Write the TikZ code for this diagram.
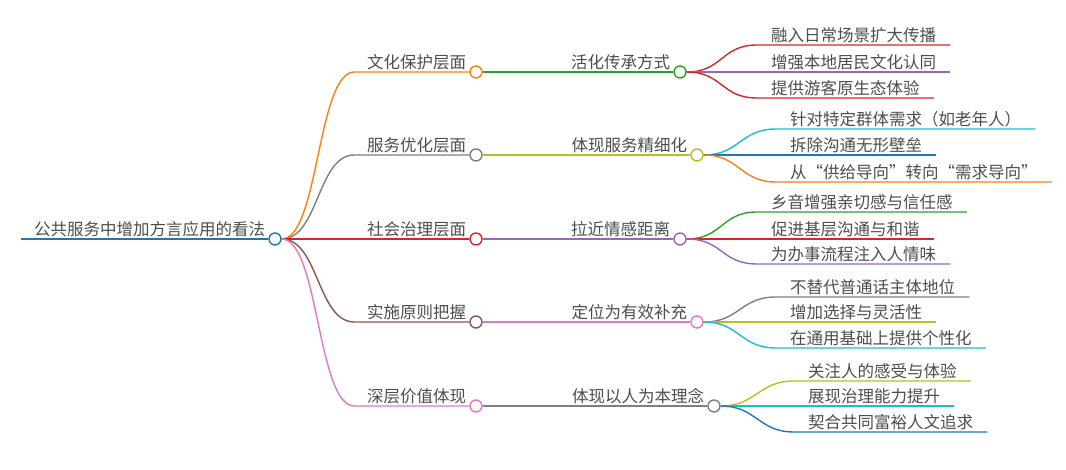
\documentclass[tikz,border=0pt]{standalone}
\usepackage{fontspec}
\newfontfamily\cjk{Noto Sans CJK SC}
\usepackage{xcolor}
\usepackage{tikz}
\usetikzlibrary{positioning}
\definecolor{cblue}{HTML}{1F77B4}
\definecolor{corange}{HTML}{FF7F0E}
\definecolor{cgreen}{HTML}{2CA02C}
\definecolor{cred}{HTML}{D62728}
\definecolor{cpurple}{HTML}{9467BD}
\definecolor{cbrown}{HTML}{8C564B}
\definecolor{cpink}{HTML}{E377C2}
\definecolor{cgray}{HTML}{7F7F7F}
\definecolor{colive}{HTML}{BCBD22}
\definecolor{ccyan}{HTML}{17BECF}
\definecolor{txtc}{HTML}{4D4D4D}
\tikzset{
  ln/.style={line width=1.4pt},
  dot/.style={circle,draw,line width=1.4pt,fill=white,minimum size=12pt,inner sep=0pt},
  lab/.style={font=\cjk\fontsize{16.5}{18}\selectfont,text=txtc,inner xsep=3pt,inner ysep=2pt},
  leaf/.style={lab,anchor=south west,inner xsep=14pt,inner ysep=1.5pt}
}

\begin{document}
\begin{tikzpicture}[x=1pt,y=1pt]
\useasboundingbox (0,0) rectangle (1066,470);
% root
\coordinate (rs) at (21,231);
\node[dot,draw=cblue] (root) at (275,231) {};
\node[lab,above left=0pt and 0pt of root.west] (roott) {公共服务中增加方言应用的看法};
\draw[ln,cblue] (rs) -- (root.west);
% first level
\node[dot,draw=corange] (a) at (476,398) {};
\node[dot,draw=cgray] (b) at (476,315) {};
\node[dot,draw=cred] (c) at (476,231) {};
\node[dot,draw=cbrown] (d) at (476,148) {};
\node[dot,draw=cpink] (e) at (476,64) {};
\node[lab,above left=0pt and 0pt of a.west] {文化保护层面};
\node[lab,above left=0pt and 0pt of b.west] {服务优化层面};
\node[lab,above left=0pt and 0pt of c.west] {社会治理层面};
\node[lab,above left=0pt and 0pt of d.west] {实施原则把握};
\node[lab,above left=0pt and 0pt of e.west] {深层价值体现};
\draw[ln,corange] (root.east) .. controls +(37,0) and +(-37,0) .. ([xshift=-115pt]a.west) -- (a.west);
\draw[ln,cgray] (root.east) .. controls +(37,0) and +(-37,0) .. ([xshift=-115pt]b.west) -- (b.west);
\draw[ln,cred] (root.east) -- (c.west);
\draw[ln,cbrown] (root.east) .. controls +(37,0) and +(-37,0) .. ([xshift=-115pt]d.west) -- (d.west);
\draw[ln,cpink] (root.east) .. controls +(37,0) and +(-37,0) .. ([xshift=-115pt]e.west) -- (e.west);
% second level
\node[dot,draw=cgreen] (a1) at (680,398) {};
\node[dot,draw=colive] (b1) at (697,315) {};
\node[dot,draw=cpurple] (c1) at (680,231) {};
\node[dot,draw=cpink] (d1) at (697,148) {};
\node[dot,draw=cgray] (e1) at (714,64) {};
\node[lab,above left=0pt and 0pt of a1.west] {活化传承方式};
\node[lab,above left=0pt and 0pt of b1.west] {体现服务精细化};
\node[lab,above left=0pt and 0pt of c1.west] {拉近情感距离};
\node[lab,above left=0pt and 0pt of d1.west] {定位为有效补充};
\node[lab,above left=0pt and 0pt of e1.west] {体现以人为本理念};
\draw[ln,cgreen] (a.east) -- (a1.west);
\draw[ln,colive] (b.east) -- (b1.west);
\draw[ln,cpurple] (c.east) -- (c1.west);
\draw[ln,cpink] (d.east) -- (d1.west);
\draw[ln,cgray] (e.east) -- (e1.west);
% leaves
\node[leaf] (a11) at (757,425) {融入日常场景扩大传播};
\node[leaf] (a12) at (757,398) {增强本地居民文化认同};
\node[leaf] (a13) at (757,372) {提供游客原生态体验};
\node[leaf] (b11) at (776,341) {针对特定群体需求（如老年人）};
\node[leaf] (b12) at (776,315) {拆除沟通无形壁垒};
\node[leaf] (b13) at (776,288) {从“供给导向”转向“需求导向”};
\node[leaf] (c11) at (757,258) {乡音增强亲切感与信任感};
\node[leaf] (c12) at (757,231) {促进基层沟通与和谐};
\node[leaf] (c13) at (757,206) {为办事流程注入人情味};
\node[leaf] (d11) at (776,173) {不替代普通话主体地位};
\node[leaf] (d12) at (776,148) {增加选择与灵活性};
\node[leaf] (d13) at (776,122) {在通用基础上提供个性化};
\node[leaf] (e11) at (794,89) {关注人的感受与体验};
\node[leaf] (e12) at (794,64) {展现治理能力提升};
\node[leaf] (e13) at (794,38) {契合共同富裕人文追求};
\draw[ln,cred] (a1.east) .. controls +(36,0) and +(-36,0) .. (a11.south west) -- (a11.south east);
\draw[ln,cpurple] (a1.east) .. controls +(36,0) and +(-36,0) .. (a12.south west) -- (a12.south east);
\draw[ln,cred] (a1.east) .. controls +(36,0) and +(-36,0) .. (a13.south west) -- (a13.south east);
\draw[ln,ccyan] (b1.east) .. controls +(36,0) and +(-36,0) .. (b11.south west) -- (b11.south east);
\draw[ln,cblue] (b1.east) .. controls +(36,0) and +(-36,0) .. (b12.south west) -- (b12.south east);
\draw[ln,corange] (b1.east) .. controls +(36,0) and +(-36,0) .. (b13.south west) -- (b13.south east);
\draw[ln,cgreen] (c1.east) .. controls +(36,0) and +(-36,0) .. (c11.south west) -- (c11.south east);
\draw[ln,cred] (c1.east) .. controls +(36,0) and +(-36,0) .. (c12.south west) -- (c12.south east);
\draw[ln,cpurple] (c1.east) .. controls +(36,0) and +(-36,0) .. (c13.south west) -- (c13.south east);
\draw[ln,cgray] (d1.east) .. controls +(36,0) and +(-36,0) .. (d11.south west) -- (d11.south east);
\draw[ln,colive] (d1.east) .. controls +(36,0) and +(-36,0) .. (d12.south west) -- (d12.south east);
\draw[ln,ccyan] (d1.east) .. controls +(36,0) and +(-36,0) .. (d13.south west) -- (d13.south east);
\draw[ln,colive] (e1.east) .. controls +(36,0) and +(-36,0) .. (e11.south west) -- (e11.south east);
\draw[ln,ccyan] (e1.east) .. controls +(36,0) and +(-36,0) .. (e12.south west) -- (e12.south east);
\draw[ln,cblue] (e1.east) .. controls +(36,0) and +(-36,0) .. (e13.south west) -- (e13.south east);
\end{tikzpicture}
\end{document}
